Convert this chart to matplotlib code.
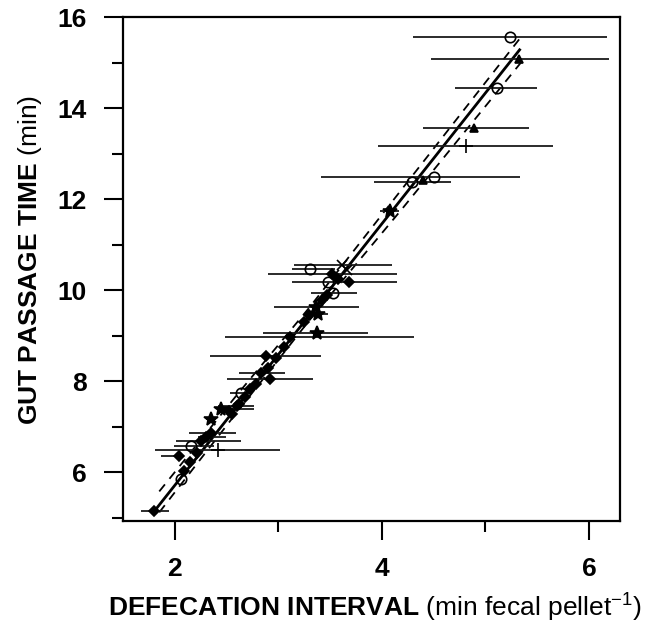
import matplotlib
matplotlib.use("Agg")
import matplotlib.pyplot as plt
import numpy as np

# fuentes tipo Arial, titulos con parte en negrita
plt.rcParams['font.family'] = ['Liberation Sans', 'DejaVu Sans']
plt.rcParams['mathtext.fontset'] = 'custom'
plt.rcParams['mathtext.rm'] = 'Liberation Sans'
plt.rcParams['mathtext.bf'] = 'Liberation Sans:bold'
plt.rcParams['mathtext.it'] = 'Liberation Sans:italic'

# ---- datos ----
# circulos abiertos
circ_x = [5.24, 5.11, 4.50, 4.29, 3.31, 3.48, 3.53, 2.64, 2.16, 2.06]
circ_y = [15.56, 14.44, 12.49, 12.38, 10.47, 10.19, 9.93, 7.75, 6.57, 5.85]
circ_lo = [4.30, 4.71, 3.41, 3.92, 3.13, 3.13, 3.32, 2.53, 1.99, 2.06]
circ_hi = [6.17, 5.50, 5.33, 4.67, 3.55, 4.15, 3.76, 2.72, 2.38, 2.06]

# triangulos
tri_x = [5.32, 4.89, 4.40]
tri_y = [15.08, 13.56, 12.42]
tri_lo = [4.47, 4.40, 4.40]
tri_hi = [6.19, 5.42, 4.40]

# cruces (+)
plus_x = [4.81, 2.42]
plus_y = [13.17, 6.48]
plus_lo = [3.96, 1.81]
plus_hi = [5.65, 3.02]

# estrellas
star_x = [4.08, 3.36, 3.38, 3.37, 2.35, 2.45]
star_y = [11.73, 9.62, 9.47, 9.05, 7.16, 7.40]
star_lo = [3.98, 2.96, 3.30, 2.85, 2.30, 2.42]
star_hi = [4.17, 3.78, 3.48, 3.87, 2.40, 2.76]

# equis
ex_x = [3.61, 3.66]
ex_y = [10.55, 10.45]
ex_lo = [3.15, 3.66]
ex_hi = [4.10, 3.66]

# rombos rellenos
dia_x = [3.52, 3.68, 3.11, 2.88, 2.83, 2.92, 2.73, 2.60, 2.52, 2.55, 2.35, 2.25,
         2.30, 2.04, 2.21, 2.15, 2.09, 1.80, 3.05, 2.98, 2.90, 2.78, 2.68, 2.62,
         3.25, 3.30, 3.42, 3.47, 3.58]
dia_y = [10.36, 10.19, 8.98, 8.56, 8.19, 8.04, 7.82, 7.45, 7.35, 7.28, 6.86, 6.68,
         6.77, 6.36, 6.42, 6.22, 6.02, 5.14, 8.75, 8.50, 8.30, 7.95, 7.65, 7.50,
         9.30, 9.45, 9.78, 9.90, 10.25]
dia_lo = [2.90, 3.68, 2.48, 2.34, 2.62, 2.50, 2.73, 2.42, 2.52, 2.55, 2.14, 2.01,
          2.22, 1.87, 2.21, 2.15, 2.09, 1.67, 3.05, 2.98, 2.90, 2.78, 2.68, 2.62,
          3.25, 3.30, 3.42, 3.47, 3.58]
dia_hi = [4.15, 3.68, 4.31, 3.41, 3.06, 3.33, 2.73, 2.76, 2.52, 2.55, 2.59, 2.64,
          2.49, 2.04, 2.21, 2.15, 2.09, 1.94, 3.05, 2.98, 2.90, 2.78, 2.68, 2.62,
          3.25, 3.30, 3.42, 3.47, 3.58]

# recta de regresion y bandas (lineas punteadas)
fit_x = [1.80, 5.33]
fit_y = [5.14, 15.28]
band_x = [1.85, 2.6, 3.3, 4.2, 5.35]
band_up = [5.58, 7.70, 9.62, 12.24, 15.58]
band_dn = [5.12, 7.32, 9.34, 11.80, 15.02]

fig = plt.figure(figsize=(6.52, 6.26), dpi=100)
ax = fig.add_axes([0.1887, 0.1677, 0.7623, 0.8051])

ax.plot(fit_x, fit_y, color='k', lw=2.0, zorder=3)
ax.plot(band_x, band_up, color='k', lw=1.3, ls=(0, (5, 4)), zorder=3)
ax.plot(band_x, band_dn, color='k', lw=1.3, ls=(0, (5, 4)), zorder=3)

grupos = [
    (circ_x, circ_y, circ_lo, circ_hi, 'o', 7.5, 'none'),
    (tri_x, tri_y, tri_lo, tri_hi, '^', 6, 'k'),
    (plus_x, plus_y, plus_lo, plus_hi, '+', 10, 'k'),
    (star_x, star_y, star_lo, star_hi, '*', 10, 'k'),
    (ex_x, ex_y, ex_lo, ex_hi, 'x', 6.5, 'k'),
    (dia_x, dia_y, dia_lo, dia_hi, 'D', 5, 'k'),
]
for gx, gy, glo, ghi, mk, ms, mfc in grupos:
    gx = np.array(gx)
    err = [gx - np.array(glo), np.array(ghi) - gx]
    ax.errorbar(gx, gy, xerr=err, fmt=mk, ms=ms, mfc=mfc, mec='k', mew=1.2,
                ecolor='0.1', elinewidth=1.3, capsize=0, zorder=4)

ax.set_xlim(1.5, 6.3)
ax.set_ylim(4.93, 16)
ax.set_xticks([2, 4, 6])
ax.set_xticks([3, 5], minor=True)
ax.set_yticks([6, 8, 10, 12, 14, 16])
ax.set_yticks([5, 7, 9, 11, 13, 15], minor=True)
ax.tick_params(which='major', length=14, width=1.5, pad=12, labelsize=19)
ax.tick_params(which='minor', length=8, width=1.5)
for lab in ax.get_xticklabels() + ax.get_yticklabels():
    lab.set_fontweight('bold')
for s in ax.spines.values():
    s.set_linewidth(1.6)

fig.text(0.575, 0.029, r"$\mathbf{DEFECATION\ INTERVAL}$ (min fecal pellet$^{\mathrm{-1}}$)",
         ha='center', va='center', fontsize=19)
fig.text(0.046, 0.585, r"$\mathbf{GUT\ PASSAGE\ TIME}$ (min)",
         ha='center', va='center', rotation=90, fontsize=19)

fig.savefig("out.png", dpi=100)
